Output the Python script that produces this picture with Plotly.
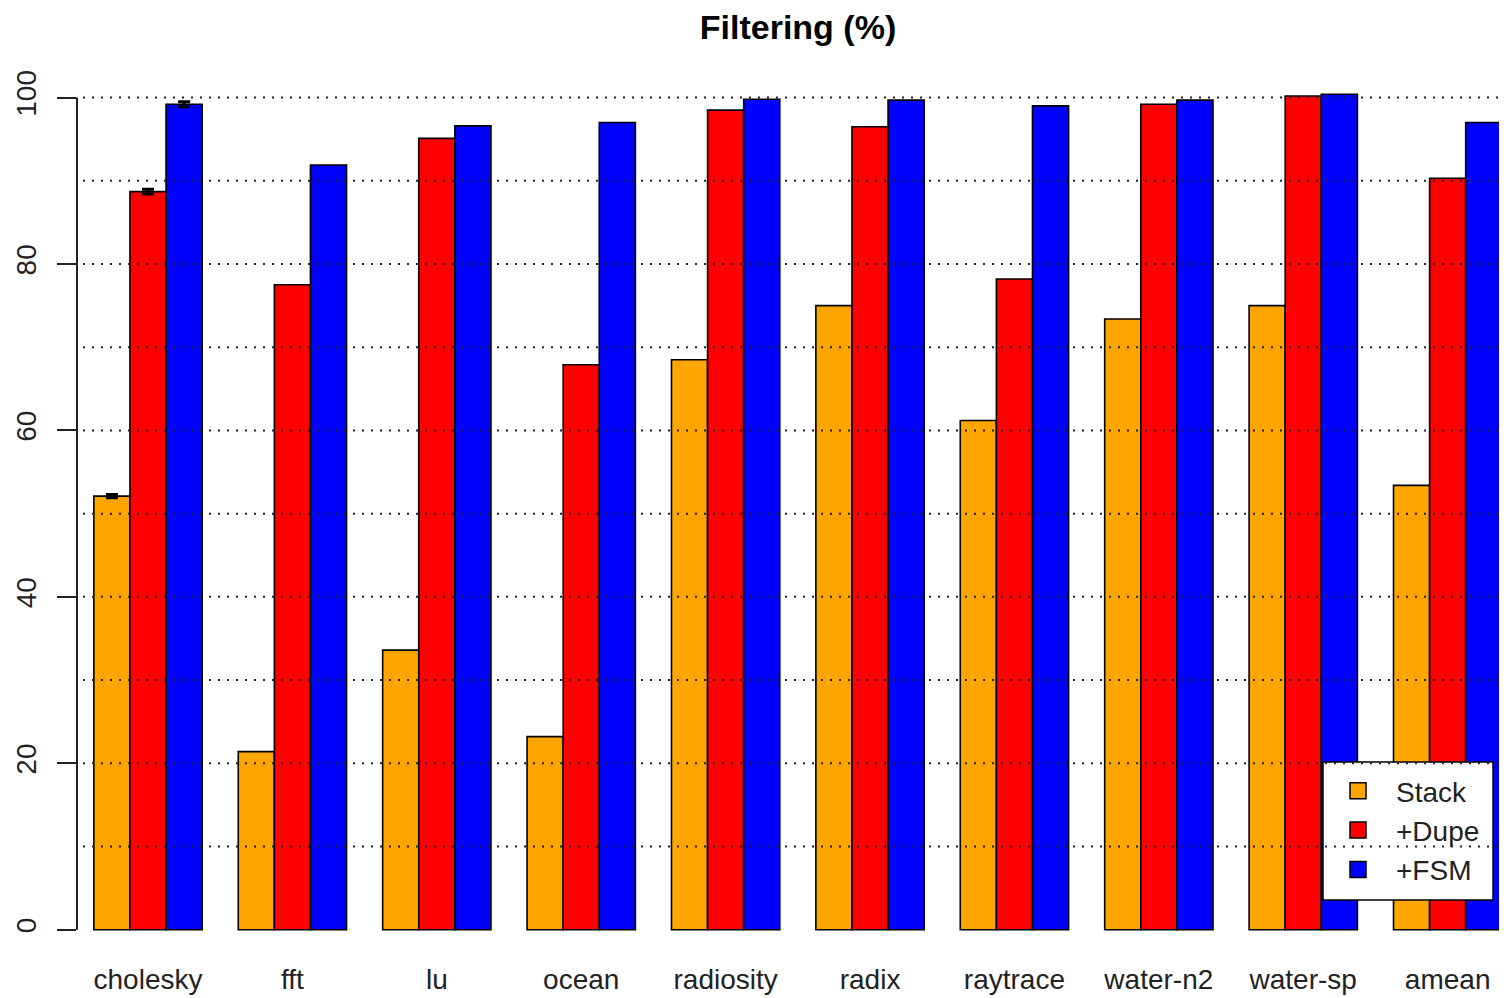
import plotly.graph_objects as go

categories = ["cholesky", "fft", "lu", "ocean", "radiosity", "radix",
              "raytrace", "water-n2", "water-sp", "amean"]
series_names = ["Stack", "+Dupe", "+FSM"]
stack = [52.1, 21.4, 33.6, 23.2, 68.5, 75.0, 61.2, 73.4, 75.0, 53.4]
dupe = [88.7, 77.5, 95.1, 67.9, 98.5, 96.5, 78.2, 99.2, 100.2, 90.3]
fsm = [99.2, 91.9, 96.6, 97.0, 99.8, 99.7, 99.0, 99.7, 100.4, 97.0]
# standard error only reported for the first benchmark (cholesky)
stack_err = [0.2]
dupe_err = [0.3]
fsm_err = [0.3]
y_ticks = [0, 20, 40, 60, 80, 100]
grid_levels = [10, 20, 30, 40, 50, 60, 70, 80, 90, 100]

colors = ["#FFA500", "#FF0000", "#0000FF"]
FONT = "Liberation Sans, Arial, sans-serif"

OFF = 8  # page body margin in the browser
SW, SH = 1507, 998
W, H = SW - OFF, SH - OFF
ML, MR, MT, MB = 69, 0, 48, 60
PW, PH = W - ML - MR, H - MT - MB


def px_x(p):
    # screen pixel -> paper x
    return (p - OFF - ML) / PW


def px_y(p):
    # screen pixel -> paper y
    return (OFF + MT + PH - p) / PH


fig = go.Figure()
for name, vals, errs, col in zip(series_names, [stack, dupe, fsm],
                                 [stack_err, dupe_err, fsm_err], colors):
    fig.add_trace(go.Bar(
        name=name, x=categories, y=vals, showlegend=False,
        marker=dict(color=col, line=dict(color="black", width=1.6)),
        error_y=dict(type="data", array=errs, visible=True,
                     color="black", thickness=3, width=6),
    ))
# legend entries (no data points, just the key swatches)
for name, col in zip(series_names, colors):
    fig.add_trace(go.Scatter(
        name=name, x=[None], y=[None], mode="markers",
        marker=dict(symbol="square", size=16, color=col,
                    line=dict(color="black", width=1.5)),
    ))

shapes = []
# legend box (gridlines pass over it in the original)
shapes.append(dict(type="rect", xref="paper", yref="paper",
                   x0=px_x(1323), x1=px_x(1493), y0=px_y(900), y1=px_y(762),
                   fillcolor="white", layer="above",
                   line=dict(color="black", width=1.5)))
# dotted reference lines (drawn over the bars, like the original)
for g in grid_levels:
    shapes.append(dict(type="line", xref="paper", yref="y",
                       x0=px_x(83), x1=1, y0=g, y1=g, layer="above",
                       line=dict(color="#222222", width=2, dash="2px,7px")))
# y axis line spanning 0..100
shapes.append(dict(type="line", xref="paper", yref="y", x0=0, x1=0,
                   y0=0, y1=100, line=dict(color="#222222", width=2)))

fig.update_layout(
    width=W, height=H,
    margin=dict(l=ML, r=MR, t=MT, b=MB, pad=0),
    paper_bgcolor="white", plot_bgcolor="white",
    barmode="group", bargap=0.25, bargroupgap=0,
    font=dict(family=FONT, size=28, color="#222222"),
    title=dict(text="<b>Filtering (%)</b>", font=dict(family=FONT, size=34, color="black"),
               x=(798 - OFF) / W, xref="container", xanchor="center",
               y=1 - (27 - OFF) / H, yref="container", yanchor="middle"),
    xaxis=dict(type="category", categoryorder="array", categoryarray=categories,
               range=[-0.4917, 9.411], showline=False, showgrid=False,
               zeroline=False, ticks="", ticklabelstandoff=22,
               tickfont=dict(size=28, color="#222222")),
    yaxis=dict(range=[-1, 105], tickvals=y_ticks, ticktext=[str(v) for v in y_ticks],
               showline=False, showgrid=False, zeroline=False,
               ticks="outside", ticklen=19, tickwidth=2, tickcolor="#222222",
               tickangle=-90, ticklabelstandoff=10,
               tickfont=dict(size=28, color="#222222")),
    legend=dict(x=px_x(1320), y=px_y(766), xanchor="left", yanchor="top",
                bgcolor="rgba(0,0,0,0)", borderwidth=0,
                font=dict(size=28, color="#222222"), itemwidth=66,
                itemsizing="trace", tracegroupgap=0),
    shapes=shapes,
    showlegend=True,
)

fig.write_html("out.html")
